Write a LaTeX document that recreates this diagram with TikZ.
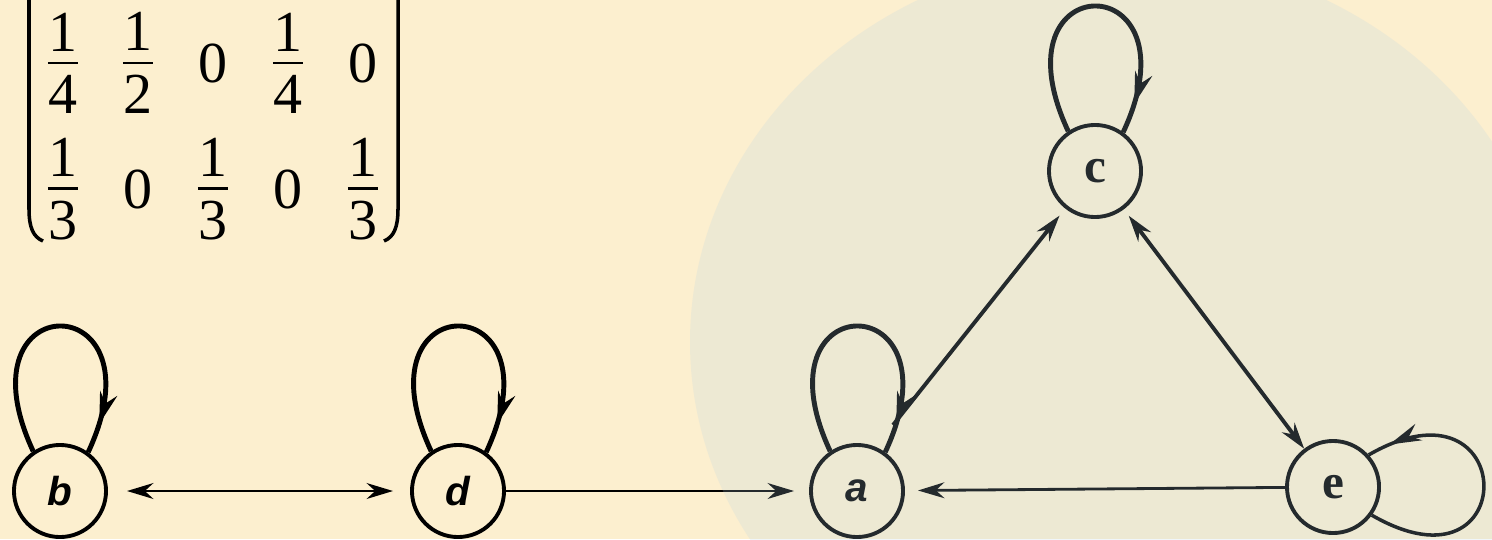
\documentclass[tikz,border=0pt]{standalone}
\usepackage{amsmath}
\usepackage{fontspec}
\setmainfont{Liberation Serif}
\setsansfont{Liberation Sans}
\usetikzlibrary{arrows.meta,decorations.markings}
\definecolor{parch}{RGB}{252,239,207}
\definecolor{disc}{RGB}{180,210,228}
\newcommand\fr[2]{\vbox{\hbox to 0.3cm{\hss#1\hss}\kern3pt\hrule height 0.8pt\kern3pt\hbox to 0.3cm{\hss#2\hss}}}
\tikzset{
  entry/.style={inner sep=0pt,font=\fontsize{16.5}{19}\selectfont},
  paren/.style={line width=1pt},
  state/.style={circle,draw,line width=1.1pt,minimum size=0.92cm,inner sep=0pt},
  selfloop/.style={line width=1.4pt,postaction={decorate},
    decoration={markings,mark=at position #1 with {\arrow{Stealth[length=9pt,width=5pt]}}}},
  link/.style={line width=0.8pt}
}
\begin{document}
\begin{tikzpicture}[x=0.01cm,y=0.01cm,>={Stealth[length=7.5pt,width=4.5pt]}]
\fill[parch] (0,0) rectangle (1492,539);
\useasboundingbox (0,0) rectangle (1492,539);
\clip (0,0) rectangle (1492,539);
\foreach \v [count=\i] in {{\fr14},{\fr12},0,{\fr14},0}{\node[entry] (p\i) at (-12+75*\i,476) {\v};}
\foreach \v [count=\i] in {{\fr13},0,{\fr13},0,{\fr13}}{\node[entry] (q\i) at (-12+75*\i,350) {\v};}
\draw[paren] (29,560) -- (29,330) .. controls (29,312) and (33,302) .. (43,298);
\draw[paren] (398,560) -- (398,330) .. controls (398,312) and (394,302) .. (384,298);
\node[state,font=\fontsize{11.5}{13}\selectfont\sffamily\bfseries\itshape] (b) at (60,48) {b};
\node[state,font=\fontsize{11.5}{13}\selectfont\sffamily\bfseries\itshape] (d) at (458,48) {d};
\node[state,font=\fontsize{11.5}{13}\selectfont\sffamily\bfseries\itshape] (a) at (857,48) {a};
\node[state,font=\fontsize{14}{16}\selectfont\bfseries] (e) at (1333,52) {e};
\node[state,font=\fontsize{14}{16}\selectfont\bfseries] (c) at (1095,368) {c};
\coordinate (ac) at (893,114);
\foreach \s in {b,d,a,c}{\draw[selfloop=0.9] (\s.124) .. controls +(115:185) and +(65:185) .. (\s.54);}
\draw[selfloop=0.92,line width=1pt] (e.-36) .. controls +(-30:175) and +(30:175) .. (e.42);
\draw[link,<->,shorten <=0.19cm,shorten >=0.17cm] (b) -- (d);
\draw[link,->,shorten >=0.15cm] (d) -- (a);
\draw[link,->,shorten >=0.13cm] (e) -- (a);
\draw[link,->,line width=1.1pt,shorten >=0.09cm] (ac) -- (c);
\draw[link,<->,line width=1.1pt,shorten <=0.08cm] (c) -- (e);
\fill[disc,fill opacity=0.2] (1122,197) ellipse (432 and 388);
\end{tikzpicture}
\end{document}
